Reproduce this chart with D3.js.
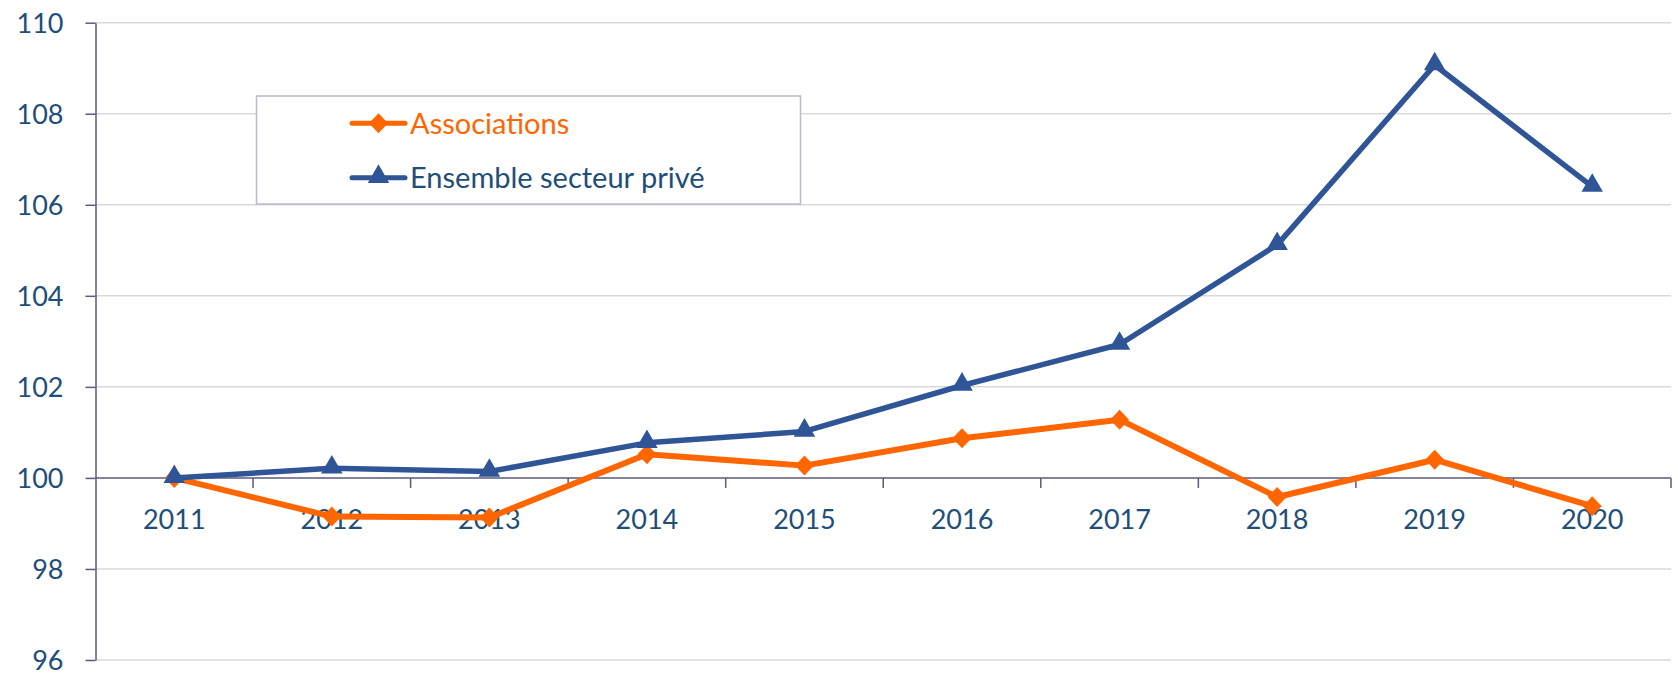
<!DOCTYPE html>
<html>
<head>
<meta charset="utf-8">
<script src="https://cdn.jsdelivr.net/npm/d3@7"></script>
<style>
  body { margin: 0; background: #fff; }
  text { font-family: Lato, "Open Sans", sans-serif; }
</style>
</head>
<body>
<svg id="chart"></svg>
<script>
const years = ['2011','2012','2013','2014','2015','2016','2017','2018','2019','2020']
const associations = [100, 99.15, 99.13, 100.52, 100.27, 100.87, 101.28, 99.58, 100.40, 99.38]
const ensemble = [100, 100.21, 100.14, 100.77, 101.02, 102.03, 102.93, 105.12, 109.07, 106.40]
const yTicks = [96, 98, 100, 102, 104, 106, 108, 110]
const seriesNames = ['Associations', 'Ensemble secteur privé']

const width = 1678
const height = 673
const margin = {top: 22.7, right: 7, bottom: 13, left: 95.5}

const orange = '#ff6600'
const blue = '#2f5597'
const textBlue = '#1f4e79'
const axisColor = '#5a5a7c'

const svg = d3.select('#chart').attr('width', width).attr('height', height)

// 比例尺
const x = d3.scaleBand().domain(years).range([margin.left, width - margin.right])
const y = d3.scaleLinear().domain([96, 110]).range([height - margin.bottom, margin.top])
const cx = d => x(d) + x.bandwidth() / 2

// 网格线
svg.append('g').selectAll('line').data(yTicks.filter(d => d !== 100)).enter().append('line')
  .attr('x1', margin.left).attr('x2', width - margin.right)
  .attr('y1', d => y(d)).attr('y2', d => y(d))
  .attr('stroke', '#d9d9d9').attr('stroke-width', 1.5)

// y 轴
const yAxis = d3.axisLeft(y).tickValues(yTicks).tickSize(10).tickPadding(22).tickSizeOuter(0)
const gy = svg.append('g').attr('transform', `translate(${margin.left},0)`).call(yAxis)
gy.select('.domain').attr('stroke', axisColor).attr('stroke-width', 1.5)
gy.selectAll('.tick line').attr('stroke', axisColor).attr('stroke-width', 1.5)
gy.selectAll('.tick text').attr('fill', textBlue).style('font-size', '27px').attr('dy', '0.36em')

// x 轴 (在 100 处)
const y100 = y(100)
const gx = svg.append('g')
gx.append('line').attr('x1', margin.left).attr('x2', width - margin.right)
  .attr('y1', y100).attr('y2', y100).attr('stroke', axisColor).attr('stroke-width', 1.5)
const bounds = years.slice(1).map(d => x(d)).concat([x.range()[1]])
gx.selectAll('.xt').data(bounds).enter().append('line').attr('class', 'xt')
  .attr('x1', d => d).attr('x2', d => d).attr('y1', y100).attr('y2', y100 + 10)
  .attr('stroke', axisColor).attr('stroke-width', 1.5)
gx.selectAll('.xl').data(years).enter().append('text').attr('class', 'xl')
  .attr('x', d => cx(d)).attr('y', y100 + 51)
  .attr('text-anchor', 'middle').attr('fill', textBlue).style('font-size', '27px')
  .text(d => d)

// 折线
const line = d3.line().x((d, i) => cx(years[i])).y(d => y(d))
const triangle = d3.symbol().type(d3.symbolTriangle).size(200)
const diamond = 'M0,-10L9.5,0L0,10L-9.5,0Z'

svg.append('path').datum(associations).attr('d', line)
  .attr('fill', 'none').attr('stroke', orange).attr('stroke-width', 6).attr('stroke-linejoin', 'round')
svg.append('g').selectAll('path').data(associations).enter().append('path')
  .attr('transform', (d, i) => `translate(${cx(years[i])},${y(d)})`)
  .attr('d', diamond).attr('fill', orange)

svg.append('path').datum(ensemble).attr('d', line)
  .attr('fill', 'none').attr('stroke', blue).attr('stroke-width', 5.5).attr('stroke-linejoin', 'round')
svg.append('g').selectAll('path').data(ensemble).enter().append('path')
  .attr('transform', (d, i) => `translate(${cx(years[i])},${y(d) - 1})`)
  .attr('d', triangle).attr('fill', blue)

// 图例
const legend = svg.append('g')
legend.append('rect').attr('x', 256.5).attr('y', 96).attr('width', 544).attr('height', 108)
  .attr('fill', '#fff').attr('stroke', '#b8b8cf').attr('stroke-width', 1.5)
const legendRows = [
  {name: seriesNames[0], color: orange, y: 123.3, mark: 'diamond'},
  {name: seriesNames[1], color: blue, y: 177.7, mark: 'triangle'}
]
const lg = legend.selectAll('.lg').data(legendRows).enter().append('g').attr('class', 'lg')
lg.append('line').attr('x1', 352).attr('x2', 405).attr('y1', d => d.y).attr('y2', d => d.y)
  .attr('stroke', d => d.color).attr('stroke-width', 5).attr('stroke-linecap', 'round')
lg.append('path').attr('transform', d => `translate(378.5,${d.mark === 'triangle' ? d.y - 1 : d.y})`)
  .attr('d', d => d.mark === 'triangle' ? triangle() : diamond).attr('fill', d => d.color)
lg.append('text').attr('x', 410).attr('y', d => d.y).attr('dy', '0.36em')
  .attr('fill', d => d.color === orange ? orange : textBlue).style('font-size', '29px')
  .text(d => d.name)
</script>
</body>
</html>
